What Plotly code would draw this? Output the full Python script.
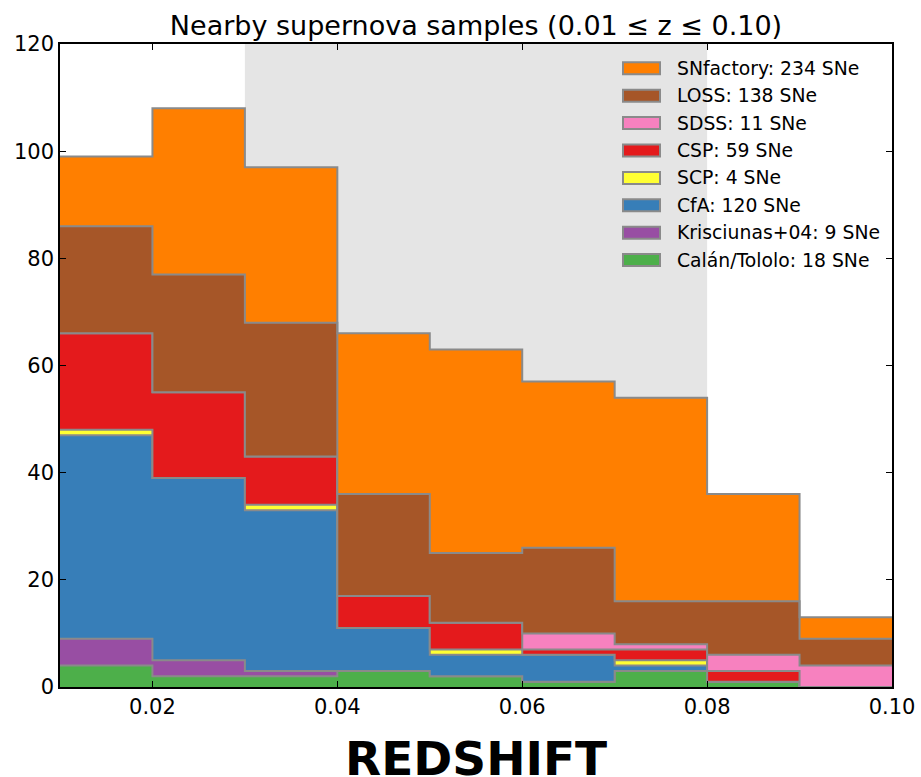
import numpy as np
import plotly.graph_objects as go

# Redshift bin edges (9 bins of width 0.01)
bin_edges = [0.01, 0.02, 0.03, 0.04, 0.05, 0.06, 0.07, 0.08, 0.09, 0.10]

# Counts per bin for each sample, stacked from bottom to top
calan_tololo = [4, 2, 2, 3, 2, 1, 3, 1, 0]
krisciunas04 = [5, 3, 1, 0, 0, 0, 0, 0, 0]
cfa = [38, 34, 30, 8, 4, 5, 1, 0, 0]
scp = [1, 0, 1, 0, 1, 0, 1, 0, 0]
csp = [18, 16, 9, 6, 5, 1, 2, 2, 0]
sdss = [0, 0, 0, 0, 0, 3, 1, 3, 4]
loss = [20, 22, 25, 19, 13, 16, 8, 10, 5]
snfactory = [13, 31, 29, 30, 38, 31, 38, 20, 4]

sample_names = ["Calán/Tololo", "Krisciunas+04", "CfA", "SCP", "CSP", "SDSS", "LOSS", "SNfactory"]
sample_counts = [calan_tololo, krisciunas04, cfa, scp, csp, sdss, loss, snfactory]
sample_colors = ["#4daf4a", "#984ea3", "#377eb8", "#ffff33", "#e41a1c", "#f781bf", "#a65628", "#ff7f00"]

x_ticks = [0.02, 0.04, 0.06, 0.08, 0.10]
x_tick_labels = ["0.02", "0.04", "0.06", "0.08", "0.10"]
y_ticks = [0, 20, 40, 60, 80, 100, 120]

title_text = "Nearby supernova samples (0.01 ≤ z ≤ 0.10)"
xlabel_text = "REDSHIFT"

FONT = "DejaVu Sans"
EDGE = "#8a8a8a"

fig = go.Figure()

# Stepped, filled outlines of the cumulative histogram
cumulative = np.zeros(len(bin_edges) - 1)
for i, (name, counts, color) in enumerate(zip(sample_names, sample_counts, sample_colors)):
    cumulative = cumulative + np.array(counts)
    y_step = list(cumulative) + [cumulative[-1]]
    fig.add_trace(go.Scatter(
        x=bin_edges, y=y_step, mode="lines",
        line=dict(shape="hv", color=EDGE, width=2),
        fill="tozeroy" if i == 0 else "tonexty",
        fillcolor=color, name=name, showlegend=False,
        hoverinfo="skip",
    ))

shapes = [
    # shaded redshift window
    dict(type="rect", xref="x", yref="paper", x0=0.03, x1=0.08, y0=0, y1=1,
         fillcolor="#e5e5e5", line=dict(width=0), layer="below"),
]
annotations = []

# Legend, drawn top-down from SNfactory to Calán/Tololo
plot_l, plot_r, plot_t, plot_b = 60, 892, 44, 687
pw, ph = plot_r - plot_l, plot_b - plot_t
def px_x(px):
    return (px - plot_l) / pw
def px_y(py):
    return 1 - (py - plot_t) / ph

row_y0, row_step = 68.3, 27.4
for k, idx in enumerate(reversed(range(len(sample_names)))):
    cy = row_y0 + k * row_step
    shapes.append(dict(type="rect", xref="paper", yref="paper",
                       x0=px_x(623), x1=px_x(660), y0=px_y(cy + 6), y1=px_y(cy - 6),
                       fillcolor=sample_colors[idx], line=dict(color=EDGE, width=2),
                       layer="above"))
    annotations.append(dict(xref="paper", yref="paper", x=px_x(675), y=px_y(cy),
                            xanchor="left", yanchor="middle", showarrow=False,
                            text=f"{sample_names[idx]}: {int(sum(sample_counts[idx]))} SNe",
                            font=dict(family=FONT, size=18.8, color="#000000")))

annotations.append(dict(xref="paper", yref="paper", x=0.5, y=0, yshift=-71,
                        xanchor="center", yanchor="middle", showarrow=False,
                        text=f"<b>{xlabel_text}</b>",
                        font=dict(family=FONT, size=47, color="#000000")))

axis_common = dict(showgrid=False, zeroline=False, showline=True, linecolor="#000000",
                   linewidth=1.5, mirror="ticks", ticks="inside", ticklen=6,
                   tickwidth=1, tickcolor="#000000", automargin=False,
                   tickfont=dict(family=FONT, size=21, color="#000000"))

fig.update_layout(
    width=921, height=777,
    margin=dict(l=plot_l, r=921 - plot_r, t=plot_t, b=777 - plot_b, autoexpand=False),
    paper_bgcolor="#ffffff", plot_bgcolor="#ffffff",
    title=dict(text=title_text, x=0.5, xref="paper", y=1 - 26 / 777, yref="container",
               xanchor="center", yanchor="middle",
               font=dict(family=FONT, size=27, color="#000000")),
    xaxis=dict(range=[0.01, 0.10], tickvals=x_ticks, ticktext=x_tick_labels, **axis_common),
    yaxis=dict(range=[0, 120], tickvals=y_ticks, **axis_common),
    shapes=shapes, annotations=annotations,
    showlegend=False,
)

fig.write_html("out.html")
